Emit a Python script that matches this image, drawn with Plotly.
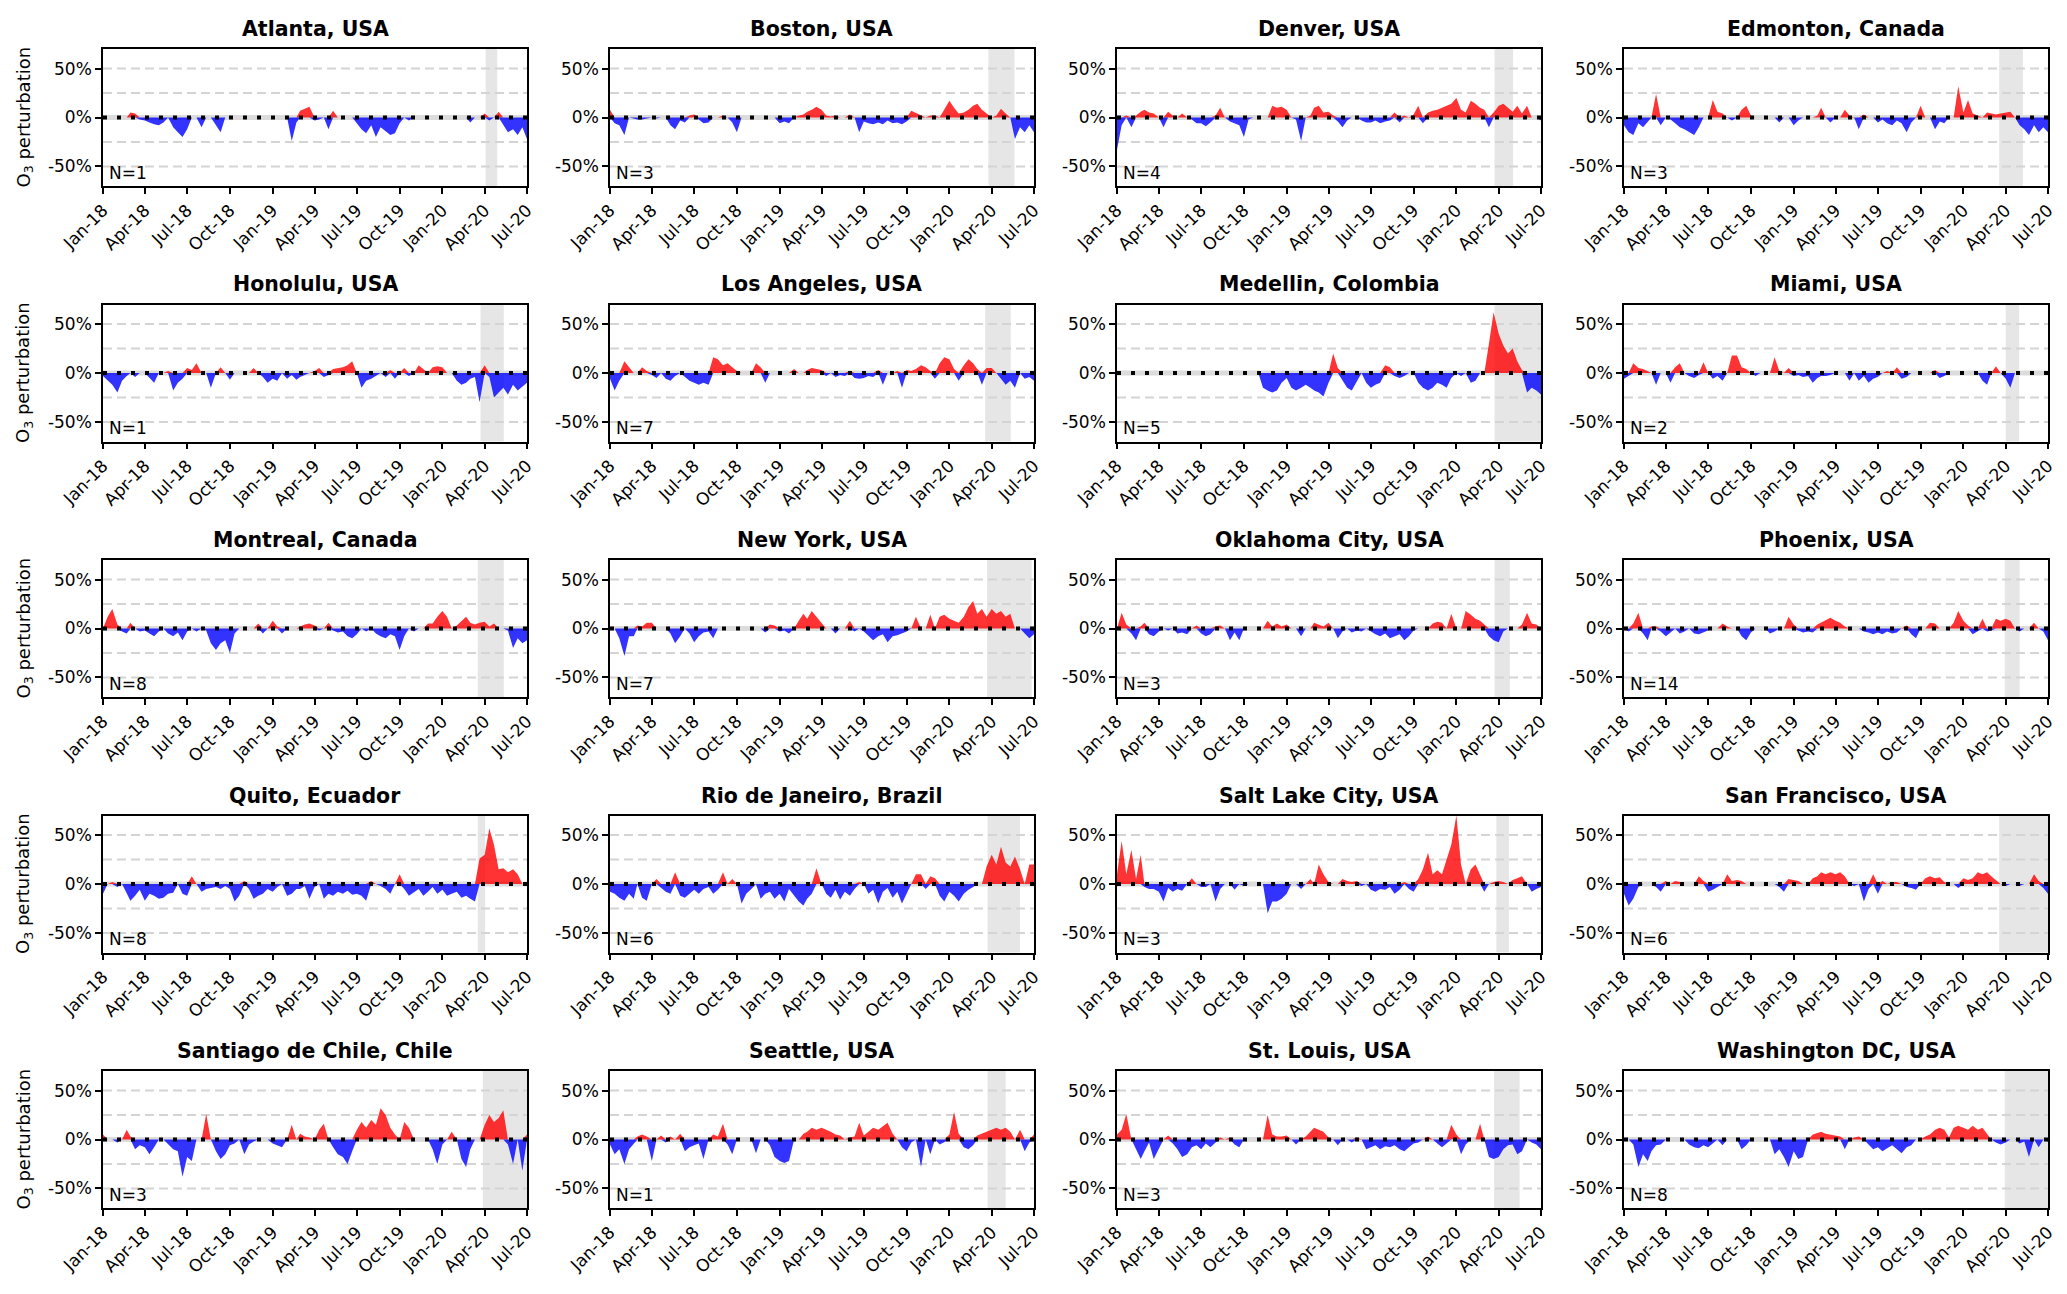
import plotly.graph_objects as go
from plotly.subplots import make_subplots

# city panels, left to right, top to bottom
cities = [
    'Atlanta, USA', 'Boston, USA', 'Denver, USA', 'Edmonton, Canada',
    'Honolulu, USA', 'Los Angeles, USA', 'Medellin, Colombia', 'Miami, USA',
    'Montreal, Canada', 'New York, USA', 'Oklahoma City, USA', 'Phoenix, USA',
    'Quito, Ecuador', 'Rio de Janeiro, Brazil', 'Salt Lake City, USA', 'San Francisco, USA',
    'Santiago de Chile, Chile', 'Seattle, USA', 'St. Louis, USA', 'Washington DC, USA',
]
stations = [1, 3, 4, 3, 1, 7, 5, 2, 8, 7, 3, 14, 8, 6, 3, 6, 3, 1, 3, 8]

# lockdown window per city (grey band)
lockdown = [
    ('2020-04-03', '2020-04-28'), ('2020-03-25', '2020-05-20'),
    ('2020-03-23', '2020-05-02'), ('2020-03-18', '2020-05-08'),
    ('2020-03-23', '2020-05-12'), ('2020-03-18', '2020-05-12'),
    ('2020-03-23', '2020-07-01'), ('2020-04-01', '2020-04-30'),
    ('2020-03-17', '2020-05-12'), ('2020-03-22', '2020-06-26'),
    ('2020-03-23', '2020-04-25'), ('2020-03-30', '2020-05-01'),
    ('2020-03-17', '2020-04-02'), ('2020-03-23', '2020-06-01'),
    ('2020-03-27', '2020-04-23'), ('2020-03-18', '2020-07-01'),
    ('2020-03-28', '2020-07-01'), ('2020-03-23', '2020-05-01'),
    ('2020-03-22', '2020-05-16'), ('2020-03-30', '2020-07-01'),
]

# sample dates: 1st, 11th and 21st of each month, Jan 2018 - Jun 2020, plus 1 Jul 2020
dates = []
for yr in (2018, 2019, 2020):
    for mo in range(1, 13):
        if yr == 2020 and mo > 6:
            break
        for dd in (1, 11, 21):
            dates.append(f'{yr}-{mo:02d}-{dd:02d}')
dates.append('2020-07-01')

tick_dates = ['2018-01-01', '2018-04-01', '2018-07-01', '2018-10-01',
              '2019-01-01', '2019-04-01', '2019-07-01', '2019-10-01',
              '2020-01-01', '2020-04-01', '2020-07-01']
tick_labels = ['Jan-18', 'Apr-18', 'Jul-18', 'Oct-18', 'Jan-19', 'Apr-19',
               'Jul-19', 'Oct-19', 'Jan-20', 'Apr-20', 'Jul-20']

# O3 perturbation (%), one row per quarter
atlanta = [0, 0, 0, 0, 0, 0, 5, 4, -2,
           -3, -5, -7, -8, -5, 0, -10, -15, -20,
           -12, 0, 0, -10, 0, 0, -8, -15, 0,
           0, 0, 0, 0, 0, 0, 0, 0, 0,
           0, 0, 0, 0, -24, -5, 7, 9, 11,
           -3, -2, 0, -12, 7, 0, 0, 0, 0,
           -6, -12, -16, -8, -20, -10, -14, -18, -16,
           -6, 0, -3, 0, 0, 0, 0, 0, 0,
           0, 0, 0, 0, 0, 0, -5, 0, 0,
           4, -3, 0, 6, -8, -15, -12, -18, -10,
           -22]
boston = [8, -6, -8, -18, 0, -1, -2, -2, -1,
          0, -1, 0, 0, -8, -12, -3, -5, 2,
          3, -2, -6, -5, 0, 0, 2, 0, -5,
          -15, 0, 0, 0, 0, 0, 0, 0, 0,
          -6, -4, -6, 0, 2, 3, 6, 8, 11,
          8, 2, 1, 2, 0, 0, 3, 0, -15,
          -4, -6, -7, -5, -7, -3, -6, -5, -7,
          -4, 7, 5, 2, 0, 2, 2, 0, 8,
          17, 10, 4, 5, 8, 12, 14, 8, 4,
          0, 2, 9, 4, 0, -22, -10, -15, -8,
          -15]
denver = [-33, -8, 2, -10, 2, 6, 8, 5, 4,
          0, -10, 6, 2, 0, 4, 0, -2, -6,
          -6, -9, -5, 2, 10, 0, -4, -6, -8,
          -20, -2, 0, 0, 0, 0, 12, 10, 11,
          8, 0, -2, -24, 0, 2, 10, 12, 5,
          6, 2, -4, -10, -3, 0, 0, -3, -5,
          -5, -3, -6, -4, -3, 5, -5, 2, 0,
          3, 12, -6, 5, 7, 8, 10, 12, 14,
          20, 8, 5, 17, 14, 10, 8, -10, 5,
          12, 14, 10, 6, 12, 4, 12, 0, 0,
          -3]
edmonton = [-8, -15, -18, -6, -10, -4, 0, 24, -8,
            0, -2, -6, -10, -12, -15, -18, -10, 0,
            0, 18, 6, 4, 0, -3, 0, 8, 12,
            2, 0, 0, 0, 0, 0, -5, 0, 0,
            -8, -3, 0, 0, 0, 2, 10, 0, -5,
            0, 0, 8, 2, 0, -12, 3, 0, 0,
            -5, -2, -6, -8, -3, -6, -15, -5, 0,
            12, 0, 0, -12, -4, -6, 0, 0, 32,
            5, 18, 4, 2, 0, 5, 4, 3, 4,
            5, 6, 0, -8, -12, -18, -8, -15, -10,
            -15]
honolulu = [-3, -8, -12, -20, -8, -3, 0, -4, 0,
            0, -5, -10, 0, 0, 2, -18, -10, -6,
            5, 3, 10, 0, 0, -15, 0, 6, 0,
            -7, 0, 0, 0, 0, 5, 0, -4, -10,
            -6, -8, 0, -6, -2, -7, -4, -2, 0,
            2, 5, -4, -2, 4, 5, 6, 8, 12,
            0, -15, -8, -6, -3, 0, -4, 3, -6,
            0, 5, -3, 0, 8, 4, 0, 6, 7,
            6, 0, 0, -8, -12, -10, -6, -4, -30,
            8, -4, -25, -20, -15, -22, -12, -18, -14,
            -10]
los_angeles = [-6, -18, -8, 12, 6, 0, 0, 6, 2,
               -2, -5, 0, -6, -8, -3, 0, -4, -8,
               -10, -12, -10, -12, 16, 14, 8, 10, 6,
               2, 0, 0, 0, 10, 6, -10, 0, 0,
               0, 0, 0, 4, 0, 0, 3, 5, 4,
               3, -3, 0, -4, -2, -3, 2, -5, -6,
               -5, -3, -4, 3, -12, 0, 0, 2, -15,
               3, 2, 4, 8, 6, 2, -6, 10, 16,
               14, 4, -8, 8, 14, 10, 4, -12, 5,
               5, 0, -6, -12, -8, -15, 0, -6, -4,
               -8]
medellin = [0, 0, 0, 0, 0, 0, 0, 0, 0,
            0, 0, 0, 0, 0, 0, 0, 0, 0,
            0, 0, 0, 0, 0, 0, 0, 0, 0,
            0, 0, 0, 0, -15, -18, -20, -18, -10,
            -5, -15, -18, -15, -12, -15, -18, -20, -24,
            -10, 20, 5, -8, -15, -18, -8, 0, -10,
            -15, -12, -10, 8, 6, -3, -5, -3, 0,
            0, -10, -15, -18, -15, -10, -12, -15, -5,
            0, -3, 0, -10, -8, 0, 0, 30, 62,
            40, 28, 20, 25, 12, 3, -20, -15, -18,
            -22]
miami = [-6, -3, 10, 5, 4, 2, 0, -12, 0,
         0, -10, 6, 10, 0, -3, -5, -2, 11,
         0, -6, -3, -8, 0, 18, 18, 6, 4,
         0, -3, 0, 0, 0, 16, 2, 0, 5,
         -3, -2, -4, -3, -10, -5, -3, -3, -2,
         0, 0, 0, -8, 0, -8, -3, -10, -6,
         -4, 0, 2, 0, 6, -6, -4, 0, 0,
         0, 0, 0, 3, -5, -3, 0, 0, 0,
         0, 0, 0, 0, -8, -12, 0, 7, 0,
         -6, -15, 0, 0, 0, 0, 0, 0, 0,
         0]
montreal = [0, 12, 20, 4, -3, -5, 6, 0, -3,
            -2, -5, -8, -3, 0, -5, -8, -4, -12,
            -3, 0, -3, 0, -2, -15, -22, -15, -12,
            -25, -5, 0, 0, 0, 0, 5, -5, 0,
            8, 2, -5, 0, 0, 0, 2, 4, 5,
            3, -2, 0, 6, -2, -4, -3, -8, -10,
            -6, 0, -3, 0, -5, -8, -10, -6, -8,
            -22, -8, 0, -3, 0, 0, 5, 5, 12,
            18, 12, 0, 3, 8, 12, 6, 4, 6,
            7, 2, 5, 0, 0, -2, -20, -10, -15,
            -12]
new_york = [0, 0, -10, -28, -8, -8, 3, 2, 6,
            6, 0, 0, 0, -5, -15, -8, 0, -5,
            -14, -8, -4, -3, -10, 0, 0, 0, 0,
            0, 0, 0, 0, 0, 0, -4, 4, 3,
            -3, -2, -5, 0, 8, 15, 10, 18, 12,
            6, 0, 0, -5, 0, 0, 8, -3, 0,
            -3, -8, -12, -8, -6, -14, -8, -7, -5,
            -3, 0, 12, 0, 0, 14, 0, 12, 14,
            10, 8, 6, 12, 22, 28, 15, 20, 12,
            20, 15, 18, 12, 15, 0, 0, -5, -10,
            -6]
oklahoma_city = [0, 16, 4, -5, -12, 2, 6, -6, -8,
                 -3, 0, -2, 0, -5, -4, -6, 0, 3,
                 -5, -8, -6, 2, 3, 0, -12, -4, -12,
                 0, 0, 0, 0, 0, 8, 2, 5, 2,
                 4, 0, 0, -8, 0, 0, 6, 4, 2,
                 6, 0, -10, -3, 0, -4, -2, -3, 0,
                 -3, -6, -8, -5, -10, -8, -6, -12, -8,
                 -2, 0, 0, 0, 5, 7, 6, 0, 15,
                 0, 0, 18, 14, 10, 8, 4, -8, -12,
                 -14, -3, 0, 0, 0, 4, 16, 5, 4,
                 0]
phoenix = [0, -3, 5, 16, -5, -12, 2, 2, -3,
           -8, -4, 0, -5, -3, 0, -5, -6, -4,
           -2, 0, 0, 5, 2, 0, 0, -8, -12,
           -4, 0, 0, 0, -5, -3, 0, 0, 12,
           4, -2, -4, -3, -4, 4, 6, 8, 11,
           8, 6, 2, 0, 0, 0, -3, -4, -6,
           -4, -6, -3, -5, -4, 0, 3, -6, -10,
           0, 0, 6, 5, 0, 0, 0, 6, 18,
           8, 3, -6, -3, 10, -3, -2, 10, 8,
           10, 8, 0, -3, 0, 0, 6, 0, -3,
           -12]
quito = [-10, 0, 2, -3, 0, -10, -17, -12, -6,
         -17, -10, -12, -15, -14, -10, -9, 0, -10,
         -12, 8, 0, -8, -5, -4, -3, -5, -2,
         -5, -18, -12, 3, -5, -15, -12, -10, -5,
         -8, -3, 0, -12, -10, -5, -5, -2, -15,
         -3, 0, -15, -10, -12, -8, -10, -7, -11,
         -10, -12, -17, 3, 0, -2, -5, -10, 0,
         10, -5, -12, -8, -5, -12, -8, -3, -10,
         -6, -12, -10, -8, -14, -12, -15, -18, 26,
         30, 57, 40, 15, 16, 12, 15, 10, 0,
         0]
rio_de_janeiro = [-8, -10, -14, -17, -10, -15, 0, -14, -17,
                  0, 5, -4, -8, -10, 12, -12, -14, -10,
                  -6, -10, -5, -3, -10, -6, 12, 0, 5,
                  0, -20, -10, -5, 0, -15, -10, -8, -15,
                  -10, -18, -5, -12, -18, -22, -15, -10, 16,
                  0, -10, -14, -6, -16, -8, -12, -5, 2,
                  0, -10, -6, -20, -8, -4, -14, -8, -20,
                  -10, 0, 10, 10, -5, 8, 6, -12, -18,
                  -8, -12, -18, -10, -6, -3, 0, 0, 18,
                  30, 20, 38, 22, 18, 28, 15, 0, 20,
                  20]
salt_lake_city = [10, 44, 10, 35, 5, 30, -3, -5, -5,
                  -8, -18, -4, -8, -5, -7, 0, 6, 0,
                  -3, -3, 0, -18, -5, 0, 0, -6, 0,
                  -2, 0, 0, 0, 0, -30, -18, -18, -15,
                  -10, 0, 0, -5, 0, 5, 0, 20, 10,
                  2, 0, 0, 5, 3, 2, 3, -2, 0,
                  -6, -8, -5, -6, -3, -10, -6, 2, -5,
                  -8, 5, 15, 32, 10, 14, 10, 24, 40,
                  70, 20, 0, 15, 20, 10, -8, 0, 2,
                  3, 2, 0, 4, 6, 8, 0, -8, -5,
                  -3]
san_francisco = [-10, -22, -15, -3, 0, 0, 0, -3, -8,
                 3, 0, 3, 2, 0, 0, 0, 8, 3,
                 -8, -6, -3, 0, 10, 3, 4, 3, 0,
                 0, 0, 0, 0, 0, 0, -3, -8, 5,
                 4, 3, 0, 0, 6, 8, 12, 10, 12,
                 10, 12, 8, 0, -2, 0, -18, -5, 10,
                 -10, 3, 0, 2, 2, 0, -3, -4, -6,
                 0, 6, 8, 6, 7, 2, 0, 0, -4,
                 6, 4, 6, 12, 10, 12, 8, 4, 0,
                 -2, 0, 0, -2, 0, 0, 10, 3, -4,
                 -10]
santiago = [5, 0, 0, -3, 0, 10, 3, -10, -6,
            -8, -15, -8, 0, 0, -5, -10, -12, -38,
            -18, -22, 0, 0, 26, 0, -12, -20, -15,
            -6, -4, 0, -15, -5, -2, 0, 0, 0,
            -4, -6, -8, 0, 15, 0, 6, 3, 2,
            0, 10, 16, 0, -8, -15, -18, -25, -12,
            10, 18, 12, 20, 15, 32, 25, 12, 5,
            0, 18, 12, 0, 0, 0, 0, -10, -25,
            -5, 0, 8, 0, -20, -28, -10, 0, 0,
            15, 25, 18, 22, 30, -5, -25, 0, -32,
            5]
seattle = [-5, -15, -10, -25, -10, -5, 3, 5, 3,
           -22, 0, 4, -3, 3, 0, 6, -12, -8,
           -6, -4, -20, 0, 5, 3, 16, -5, -15,
           0, 0, 0, 0, -14, 0, 0, -6, -18,
           -22, -24, -22, 0, 0, 6, 8, 12, 10,
           12, 10, 8, 5, 4, 0, 2, 3, 17,
           4, 8, 12, 10, 14, 17, 6, 0, -8,
           -12, -3, 0, -28, 0, -15, 0, -5, -3,
           5, 28, 6, -8, -10, -6, 4, 6, 8,
           10, 12, 10, 12, 8, 0, 10, -12, -3,
           5]
st_louis = [5, 10, 26, 0, -10, -20, -12, -3, -20,
            -10, 0, 4, -4, -10, -18, -15, -8, -6,
            -10, -4, -8, -3, 2, 0, 2, -5, -8,
            0, 0, 0, 0, 0, 25, 5, 3, 3,
            4, 0, -5, 0, 3, 8, 12, 10, 8,
            2, 0, -6, 0, 0, -3, 2, 0, -10,
            -8, -6, -10, -7, -8, -6, -10, -12, -8,
            -4, -3, 0, 3, 0, -4, -8, -4, 15,
            5, -15, -5, 0, 0, 16, 0, -18, -20,
            -18, -10, -6, -5, -15, -12, 0, -3, -5,
            -10]
washington = [0, 0, -5, -28, -15, -22, -12, -6, -5,
              0, 0, 0, 0, 0, -5, -8, -9, -6,
              -8, -4, 0, -6, 0, 0, 0, -10, -6,
              0, 0, 0, 0, 0, -15, -10, -18, -28,
              -12, -20, -18, 0, 5, 7, 8, 6, 5,
              4, 3, -10, 0, 2, 3, 0, -5, -10,
              -8, -12, -9, -6, -10, -14, -8, -6, 0,
              0, 3, 5, 10, 12, 10, 2, 12, 14,
              12, 10, 14, 10, 12, 6, 0, -3, -5,
              -3, 0, 0, -4, -2, -18, 0, -8, 0,
              -2]

series = [atlanta, boston, denver, edmonton,
          honolulu, los_angeles, medellin, miami,
          montreal, new_york, oklahoma_city, phoenix,
          quito, rio_de_janeiro, salt_lake_city, san_francisco,
          santiago, seattle, st_louis, washington]

FONT = 'DejaVu Sans'
# figure sits inside the page's 8px body margin
W, H = 2051, 1278
col_left = [103, 610, 1117, 1624]
col_w = 424
row_top_px = [49, 304.5, 560, 815.5, 1071]
row_hpx = 137


def fx(px):
    return (px - 8) / W


def fy(py):
    return 1 - (py - 8) / H


fig = make_subplots(rows=5, cols=4)
shapes = []
annotations = []

for i, (city, vals) in enumerate(zip(cities, series)):
    r, c = divmod(i, 4)
    n = i + 1
    sfx = '' if n == 1 else str(n)
    xd = [fx(col_left[c]), fx(col_left[c] + col_w)]
    yd = [fy(row_top_px[r] + row_hpx), fy(row_top_px[r])]
    pos = [max(v, 0) for v in vals]
    neg = [min(v, 0) for v in vals]
    fig.add_trace(go.Scatter(x=dates, y=pos, mode='lines', fill='tozeroy',
                             line=dict(width=0, color='rgba(255,0,0,0.8)'),
                             fillcolor='rgba(255,0,0,0.8)', showlegend=False,
                             hoverinfo='skip'), row=r + 1, col=c + 1)
    fig.add_trace(go.Scatter(x=dates, y=neg, mode='lines', fill='tozeroy',
                             line=dict(width=0, color='rgba(0,0,255,0.8)'),
                             fillcolor='rgba(0,0,255,0.8)', showlegend=False,
                             hoverinfo='skip'), row=r + 1, col=c + 1)

    fig.layout['xaxis' + sfx].update(
        domain=xd, range=['2018-01-01', '2020-07-01'], type='date',
        tickvals=tick_dates, ticktext=tick_labels, tickangle=-45,
        tickfont=dict(size=17, color='black', family=FONT), automargin=False,
        ticklabeloverflow='allow',
        showgrid=False, zeroline=False, showline=True, mirror=True,
        linecolor='black', linewidth=1.5, ticks='outside', ticklen=6,
        tickwidth=1.5, tickcolor='black')
    fig.layout['yaxis' + sfx].update(
        domain=yd, range=[-70, 70],
        tickvals=[-50, 0, 50], ticktext=['-50%', '0%', '50%'],
        tickfont=dict(size=17, color='black', family=FONT), automargin=False,
        ticklabeloverflow='allow',
        showgrid=False, zeroline=False, showline=True, mirror=True,
        linecolor='black', linewidth=1.5, ticks='outside', ticklen=6,
        tickwidth=1.5, tickcolor='black')

    xr, yr = 'x' + sfx, 'y' + sfx
    start, end = lockdown[i]
    shapes.append(dict(type='rect', xref=xr, yref=yr + ' domain', x0=start, x1=end,
                       y0=0, y1=1, fillcolor='#e6e6e6', line=dict(width=0), layer='below'))
    for g in (-50, -25, 25, 50):
        shapes.append(dict(type='line', xref=xr + ' domain', yref=yr, x0=0, x1=1, y0=g, y1=g,
                           line=dict(color='#d4d4d4', width=2, dash='9px,5px'), layer='below'))
    shapes.append(dict(type='line', xref=xr + ' domain', yref=yr, x0=0, x1=1, y0=0, y1=0,
                       line=dict(color='#dcdcdc', width=5), layer='below'))
    shapes.append(dict(type='line', xref=xr + ' domain', yref=yr, x0=0, x1=1, y0=0, y1=0,
                       line=dict(color='black', width=4, dash='4px,10px'), layer='above'))

    annotations.append(dict(text=f'<b>{city}</b>', xref='paper', yref='paper',
                            x=(xd[0] + xd[1]) / 2, y=yd[1],
                            xanchor='center', yanchor='bottom', yshift=6, showarrow=False,
                            font=dict(size=20.5, color='black', family=FONT)))
    annotations.append(dict(text=f'N={stations[i]}', xref=xr + ' domain', yref=yr + ' domain',
                            x=0.01, y=0.01, xanchor='left', yanchor='bottom', showarrow=False,
                            font=dict(size=17, color='black', family=FONT)))
    if c == 0:
        annotations.append(dict(text='O<sub>3</sub> perturbation', xref='paper', yref='paper',
                                x=fx(24), y=(yd[0] + yd[1]) / 2, textangle=-90,
                                xanchor='center', yanchor='middle', showarrow=False,
                                font=dict(size=18, color='black', family=FONT)))

fig.update_layout(
    width=W, height=H,
    margin=dict(l=0, r=0, t=0, b=0, autoexpand=False),
    paper_bgcolor='white', plot_bgcolor='white',
    font=dict(family=FONT, color='black'),
    shapes=shapes, annotations=annotations,
    hovermode=False,
)

fig.write_html('out.html')
